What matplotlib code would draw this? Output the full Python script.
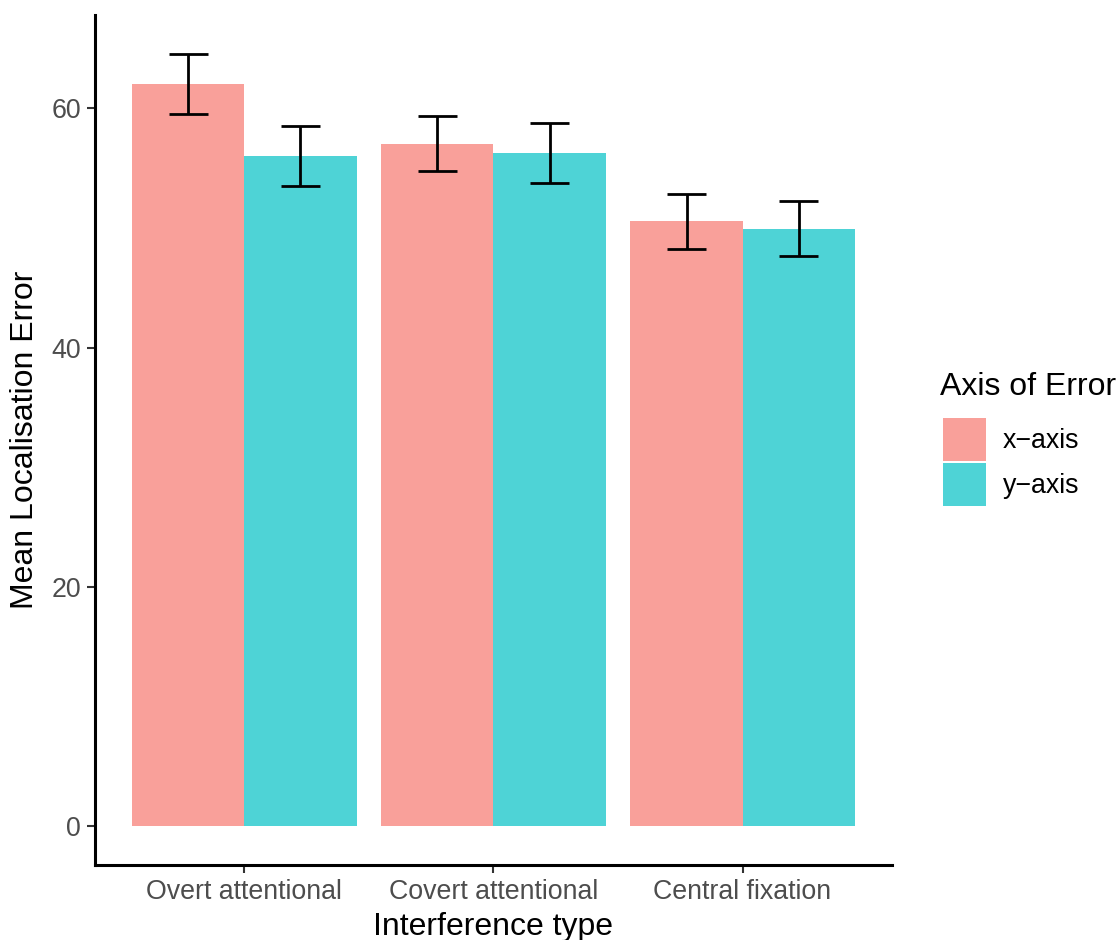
import numpy as np
import matplotlib.pyplot as plt
from matplotlib.patches import Patch

plt.rcParams['font.family'] = ['Liberation Sans', 'DejaVu Sans']

# mean localisation error per interference type, split by axis
types = ["Overt attentional", "Covert attentional", "Central fixation"]
axes_of_error = ["x\u2212axis", "y\u2212axis"]
mean_x = [62.05, 57.05, 50.55]
mean_y = [56.05, 56.3, 49.95]
se_x = [2.5, 2.3, 2.3]
se_y = [2.5, 2.5, 2.3]

colours = ["#F9A09A", "#4ED3D6"]
width = 0.45

fig = plt.figure(figsize=(11.18, 9.4), dpi=100)
ax = fig.add_axes([95/1118, 75/940, 797/1118, 850/940])

pos = np.arange(1, len(types) + 1)
for k, (means, ses) in enumerate([(mean_x, se_x), (mean_y, se_y)]):
    xs = pos + (k - 0.5) * width
    ax.bar(xs, means, width=width, color=colours[k], edgecolor='none')
    lo = np.array(means) - np.array(ses)
    hi = np.array(means) + np.array(ses)
    ax.vlines(xs, lo, hi, color='black', lw=2.0)
    ax.hlines(lo, xs - 0.077, xs + 0.077, color='black', lw=2.0)
    ax.hlines(hi, xs - 0.077, xs + 0.077, color='black', lw=2.0)

ax.set_xlim(0.4, 3.6)
ax.set_ylim(-3.23, 67.8)
ax.set_xticks(pos)
ax.set_xticklabels(types)
ax.set_yticks([0, 20, 40, 60])
ax.tick_params(axis='both', labelsize=19.3, labelcolor='#4D4D4D', color='#333333',
               length=6, width=1.5)
ax.tick_params(axis='x', pad=4)
ax.tick_params(axis='y', pad=4)
for side in ['top', 'right']:
    ax.spines[side].set_visible(False)
for side in ['left', 'bottom']:
    ax.spines[side].set_linewidth(2.2)
ax.set_xlabel("Interference type", fontsize=23, labelpad=5)
ax.set_ylabel("Mean Localisation Error", fontsize=23, labelpad=8)

# legend: title drawn separately so the key spacing can be set freely
fig.text(940/1118, 1 - 387/940, "Axis of Error", fontsize=23, ha='left', va='center')
handles = [Patch(facecolor=c, edgecolor='none') for c in colours]
fig.legend(handles, axes_of_error, loc='upper left',
           bbox_to_anchor=(943/1118, 1 - 418/940), frameon=False,
           fontsize=19.3, handlelength=1.6, handleheight=2.09,
           labelspacing=0.075, handletextpad=0.62, borderpad=0, borderaxespad=0)

fig.savefig("out.png", dpi=100)
